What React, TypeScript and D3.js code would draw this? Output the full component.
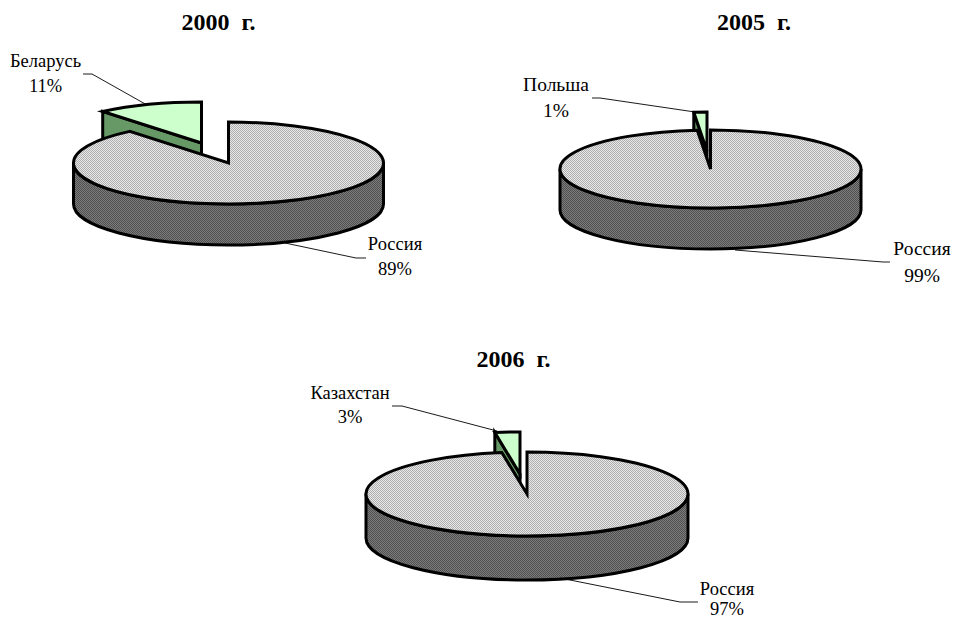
import React from "react";
import * as d3 from "d3";

const years = ["2000 г.", "2005 г.", "2006 г."];
const categories2000 = ["Россия", "Беларусь"];
const categories2005 = ["Россия", "Польша"];
const categories2006 = ["Россия", "Казахстан"];
const values2000 = [89, 11];
const values2005 = [98.6, 1.4];
const values2006 = [97.5, 2.5];
const labels2000 = ["89%", "11%"];
const labels2005 = ["99%", "1%"];
const labels2006 = ["97%", "3%"];

type Layout = {
  title: [number, number];
  cx: number; cy: number; rx: number; ry: number; depth: number;
  ex: number; ey: number;
  font: number;
  mainLabel: [number, number, number];
  sliceLabel: [number, number, number];
  mainLeader: [number, number][];
  sliceLeader: [number, number][];
};

const layouts: Layout[] = [
  { title: [218.5, 30], cx: 228.5, cy: 163, rx: 155, ry: 41, depth: 41, ex: -27, ey: -20, font: 18.5,
    mainLabel: [395, 250, 275], sliceLabel: [45.5, 67, 92],
    mainLeader: [[285, 243], [356, 258], [366, 258]],
    sliceLeader: [[83, 74], [92, 74], [147, 105]] },
  { title: [754, 30], cx: 710.5, cy: 169, rx: 150.5, ry: 39, depth: 41, ex: -3.5, ey: -18, font: 19.5,
    mainLabel: [922, 255, 282], sliceLabel: [556, 91, 117],
    mainLeader: [[735, 250], [883, 262], [890, 262]],
    sliceLeader: [[592, 98], [600, 98], [695, 112]] },
  { title: [513.5, 367], cx: 527, cy: 494, rx: 161, ry: 42, depth: 44, ex: -7, ey: -20, font: 18.5,
    mainLabel: [727, 595, 615], sliceLabel: [350, 399, 423],
    mainLeader: [[560, 578], [680, 602], [698, 602]],
    sliceLeader: [[392, 406], [402, 406], [497, 431]] },
];

const series = [
  { year: years[0], cats: categories2000, vals: values2000, labs: labels2000 },
  { year: years[1], cats: categories2005, vals: values2005, labs: labels2005 },
  { year: years[2], cats: categories2006, vals: values2006, labs: labels2006 },
];

const FONT = "'Liberation Serif', 'Times New Roman', serif";
const STROKE = 3;
const pieGen = d3.pie<number>().sort(null).value((d) => d);
const leaderLine = d3.line();

function Pie({ s, l }: { s: (typeof series)[number]; l: Layout }) {
  const [main, slice] = pieGen(s.vals);
  const pt = (a: number, cx: number, cy: number): [number, number] => [
    cx + l.rx * Math.sin(a),
    cy - l.ry * Math.cos(a),
  ];
  const sx = l.cx + l.ex;
  const sy = l.cy + l.ey;

  const wedge = (a0: number, a1: number, cx: number, cy: number) => {
    const p0 = pt(a0, cx, cy);
    const p1 = pt(a1, cx, cy);
    const large = a1 - a0 > Math.PI ? 1 : 0;
    return `M${cx},${cy}L${p0[0]},${p0[1]}A${l.rx},${l.ry} 0 ${large} 1 ${p1[0]},${p1[1]}Z`;
  };

  const wallLeft = l.cx - l.rx;
  const wallRight = l.cx + l.rx;
  const wall = `M${wallLeft},${l.cy}A${l.rx},${l.ry} 0 0 0 ${wallRight},${l.cy}L${wallRight},${l.cy + l.depth}A${l.rx},${l.ry} 0 0 1 ${wallLeft},${l.cy + l.depth}Z`;

  const corner = pt(slice.startAngle, sx, sy);
  const face = `M${corner[0]},${corner[1]}L${sx},${sy}L${sx},${sy + l.depth}L${corner[0]},${corner[1] + l.depth}Z`;

  return (
    <g>
      <text x={l.title[0]} y={l.title[1]} textAnchor="middle" fontWeight="bold" fontSize={24} wordSpacing={6} fontFamily={FONT}>{s.year}</text>
      <path d={face} fill="#669966" stroke="#000" strokeWidth={STROKE} strokeLinejoin="miter" />
      <path d={wedge(slice.startAngle, slice.endAngle, sx, sy)} fill="#ccffcc" stroke="#000" strokeWidth={STROKE} strokeLinejoin="miter" />
      <path d={wall} fill="url(#darkDots)" stroke="#000" strokeWidth={STROKE} />
      <path d={wedge(main.startAngle, main.endAngle, l.cx, l.cy)} fill="url(#lightDots)" stroke="#000" strokeWidth={STROKE} strokeLinejoin="miter" />
      <path d={leaderLine(l.mainLeader) ?? ""} fill="none" stroke="#000" strokeWidth={0.9} />
      <path d={leaderLine(l.sliceLeader) ?? ""} fill="none" stroke="#000" strokeWidth={0.9} />
      <g fontFamily={FONT} fontSize={l.font} textAnchor="middle" fill="#000">
        <text x={l.mainLabel[0]} y={l.mainLabel[1]}>{s.cats[0]}</text>
        <text x={l.mainLabel[0]} y={l.mainLabel[2]}>{s.labs[0]}</text>
        <text x={l.sliceLabel[0]} y={l.sliceLabel[1]}>{s.cats[1]}</text>
        <text x={l.sliceLabel[0]} y={l.sliceLabel[2]}>{s.labs[1]}</text>
      </g>
    </g>
  );
}

export default function App() {
  return (
    <svg width={954} height={619} style={{ position: "absolute", left: 0, top: 0, background: "#fff" }}>
      <defs>
        <pattern id="lightDots" width={2} height={2} patternUnits="userSpaceOnUse">
          <rect width={2} height={2} fill="#e8e8e8" />
          <rect width={1} height={1} fill="#aeaeae" />
          <rect x={1} y={1} width={1} height={1} fill="#aeaeae" />
        </pattern>
        <pattern id="darkDots" width={2} height={2} patternUnits="userSpaceOnUse">
          <rect width={2} height={2} fill="#7c7c7c" />
          <rect width={1} height={1} fill="#505050" />
          <rect x={1} y={1} width={1} height={1} fill="#505050" />
        </pattern>
      </defs>
      {series.map((s, i) => (
        <Pie key={s.year} s={s} l={layouts[i]} />
      ))}
    </svg>
  );
}
